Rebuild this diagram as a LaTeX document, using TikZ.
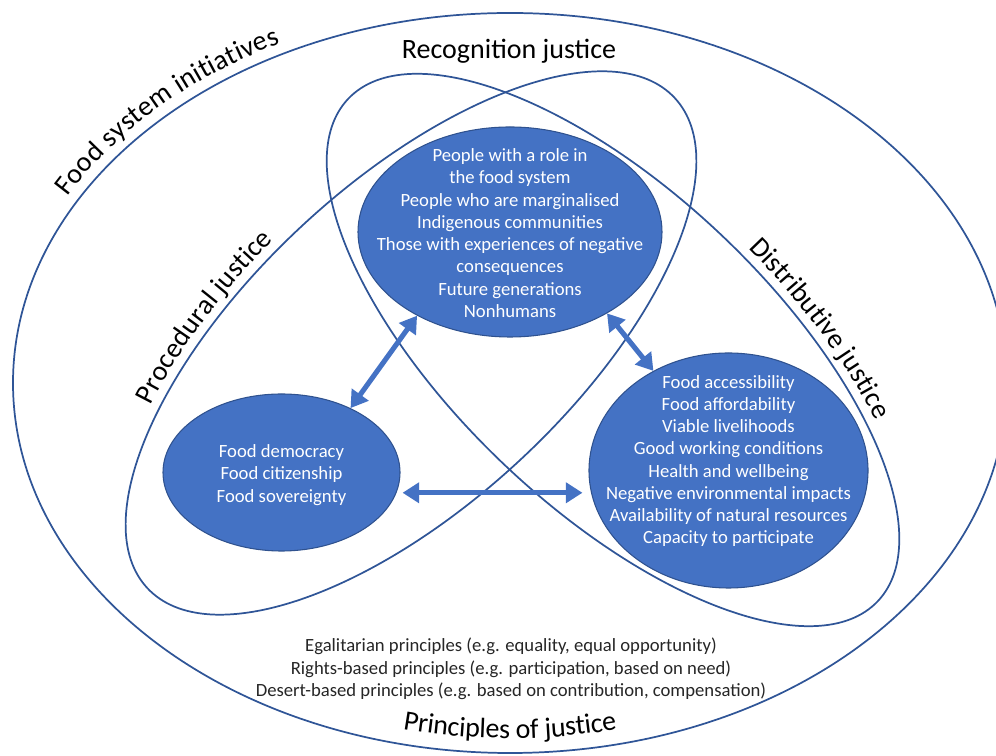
\documentclass[tikz,border=0pt]{standalone}
\usepackage{fontspec}
\setmainfont{Carlito}
\usetikzlibrary{arrows.meta,shapes.geometric,decorations.text}

\definecolor{ringblue}{HTML}{2F5597}
\definecolor{fillblue}{HTML}{4472C4}
\definecolor{edgeblue}{HTML}{2F528F}

\newcommand{\bodyfont}{\fontsize{14}{16.7}\selectfont}
\newcommand{\labelfont}{\fontsize{21}{25}\selectfont}

\begin{document}
\begin{tikzpicture}[x=0.75pt,y=0.75pt,
    ring/.style={draw=ringblue, line width=1.3pt},
    blob/.style={ellipse, draw=edgeblue, line width=0.8pt, fill=fillblue, inner sep=0pt},
    blobtext/.style={text=white, align=center, font=\bodyfont},
    twoway/.style={draw=fillblue, line width=3.8pt,
      {Triangle[length=12.5pt,width=15pt]}-{Triangle[length=12.5pt,width=15pt]}}]
      \useasboundingbox (0,0) rectangle (996,756);
      \clip (0,0) rectangle (996,756);
      \draw[ring] (510,373) ellipse[x radius=497, y radius=370];
      \draw[ring, rotate around={42.9:(411,413)}] (411,413) ellipse[x radius=360, y radius=160];
      \draw[ring, rotate around={-43.5:(613,406)}] (613,406) ellipse[x radius=365, y radius=158];
      \path[decorate, decoration={text along path, text align=center, raise=8pt,
          text={|\labelfont|Food system initiatives}}]
        (510,373) ++(157:497 and 370) arc[start angle=157, end angle=112, x radius=497, y radius=370];
      \path[decorate, decoration={text along path, text align=center, raise=11pt,
          text={|\labelfont|Principles of justice}}]
        (510,373) ++(245:497 and 370) arc[start angle=245, end angle=295, x radius=497, y radius=370];
      \path[decorate, decoration={text along path, text align=center, raise=7pt,
          text={|\labelfont|Procedural justice}}]
        plot[variable=\t, domain=144:84, samples=91]
          ({411+263.7*cos(\t)-108.9*sin(\t)},{413+245.1*cos(\t)+117.2*sin(\t)});
      \path[decorate, decoration={text along path, text align=center, raise=7pt,
          text={|\labelfont|Distributive justice}}]
        plot[variable=\t, domain=96:36, samples=91]
          ({613+264.8*cos(\t)+108.8*sin(\t)},{406-251.3*cos(\t)+114.6*sin(\t)});
      \node[font=\labelfont, anchor=base] (reclabel) at (509,697) {Recognition justice};
      \node[blob, minimum width=228pt, minimum height=157.5pt] (rec) at (510,524) {};
      \node[blob, minimum width=177.75pt, minimum height=117.75pt] (proc) at (281.5,283.5) {};
      \node[blob, minimum width=209.25pt, minimum height=176.25pt] (dist) at (728.5,285.5) {};
      \node[blobtext] (rectext) at (510,523) {People with a role in\\the food system\\People who are marginalised\\Indigenous communities\\Those with experiences of negative\\consequences\\Future generations\\Nonhumans};
      \node[blobtext] (proctext) at (281.5,281) {Food democracy\\Food citizenship\\Food sovereignty};
      \node[blobtext] (disttext) at (728.5,295) {Food accessibility\\Food affordability\\Viable livelihoods\\Good working conditions\\Health and wellbeing\\Negative environmental impacts\\Availability of natural resources\\Capacity to participate};
      \node[font=\bodyfont, align=center, text=black!85] (princ) at (511,87) {Egalitarian principles (e.g. equality, equal opportunity)\\Rights-based principles (e.g. participation, based on need)\\Desert-based principles (e.g. based on contribution, compensation)};
      \draw[twoway] (proc.43) -- (rec.222);
      \draw[twoway] (rec.320) -- (dist.127);
      \draw[twoway, shorten <=4.5pt, shorten >=4.5pt] (proc.350) -- (proc.350 -| dist.west);
    \end{tikzpicture}
\end{document}
